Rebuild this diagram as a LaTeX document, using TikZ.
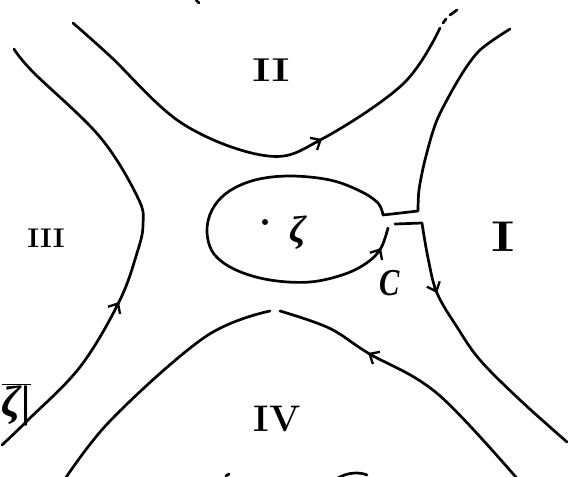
\documentclass[tikz,border=0pt]{standalone}
\usepackage{fontspec}
\newfontfamily\hwfont{Liberation Serif}
\usetikzlibrary{arrows.meta}
\begin{document}
\begin{tikzpicture}[x=1pt,y=-1pt,
  curve/.style={line width=2.7pt, line cap=round, line join=round},
  harr/.style={line width=2.7pt, -{Straight Barb[length=8pt,width=14pt,line width=2.3pt]}},
  lbl/.style={inner sep=0pt, outer sep=0pt}]
\useasboundingbox (0,0) rectangle (574,477);
% branch II
\draw[curve] plot[smooth, tension=0.6] coordinates
  {(73,23) (110,56) (183,124) (268,156) (322,139) (403,84) (440,28)};
\draw[curve] (443,23) -- (446,19);
\draw[curve] (450,15) -- (457,10);
\coordinate (a2s) at (316,142.5);
\coordinate (a2) at (322,139);
\draw[harr] (a2s) -- (a2);
% branch III
\draw[curve] plot[smooth, tension=0.6] coordinates
  {(2,445) (28,420) (80,367) (119,302) (137,253) (143,225) (138,198) (100,137) (33,72) (14,49)};
\coordinate (a3s) at (116,307);
\coordinate (a3) at (119,302);
\draw[harr] (a3s) -- (a3);
% branch IV
\draw[curve] plot[smooth, tension=0.6] coordinates
  {(527,490) (439,395) (368,353) (329,328) (280,311)};
\draw[curve] plot[smooth, tension=0.6] coordinates
  {(270,311) (205,337) (110,421) (59,488)};
\coordinate (a4s) at (374,356.5);
\coordinate (a4) at (368,353);
\draw[harr] (a4s) -- (a4);
% branch I with the loop round zeta
\draw[curve] plot[smooth, tension=0.5] coordinates
  {(510,29) (480,50) (460,77) (437,120) (425,160) (419,190) (418,211)}
  -- (383,215)
  plot[smooth, tension=0.6] coordinates
  {(383,215) (378,203) (360,191) (330,180) (290,176) (255,180) (228,192)
   (212,210) (207,232) (214,254) (236,270) (270,280) (310,282) (345,274)
   (368,262) (381,248) (388,228)};
\coordinate (a5s) at (378,253);
\coordinate (a5) at (381,248);
\draw[harr] (a5s) -- (a5);
\draw[curve] (395,224) -- (422,223)
  plot[smooth, tension=0.6] coordinates
  {(422,223) (428,258) (437,293) (457,327) (480,360) (520,400) (567,442)};
\coordinate (a6s) at (434.5,287);
\coordinate (a6) at (437,293);
\draw[harr] (a6s) -- (a6);
% labels
\node[lbl] (lII) at (271,70) {\fontsize{33}{33}\selectfont\bfseries\scalebox{1.3}[1]{II}};
\node[lbl] (lIII) at (46,238) {\fontsize{27}{27}\selectfont\bfseries\scalebox{1.05}[1]{III}};
\node[lbl] (lI) at (503,237) {\fontsize{43}{43}\selectfont\bfseries\scalebox{1.3}[1]{I}};
\node[lbl] (lIV) at (277,419) {\fontsize{37}{37}\selectfont\bfseries IV};
\node[lbl] (zeta) at (298,233) {\hwfont\fontsize{38}{38}\selectfont\bfseries\itshape ζ};
\fill (265,222) circle (3);
\node[lbl] (lC) at (390,283) {\hwfont\fontsize{38}{38}\selectfont\bfseries\itshape\scalebox{0.8}[1]{C}};
\node[lbl, anchor=east] (zbar) at (31,405) {$\overline{\hbox{\hwfont\fontsize{44}{44}\selectfont\bfseries\itshape ζ|}}$};
% cut-off fragments at the edges
\draw[curve] (196,0) -- (199,3);
\draw[curve] (338,478) .. controls (348,472) and (360,472) .. (367,475);
\draw[curve] (226,476) -- (229,474);
\end{tikzpicture}
\end{document}
